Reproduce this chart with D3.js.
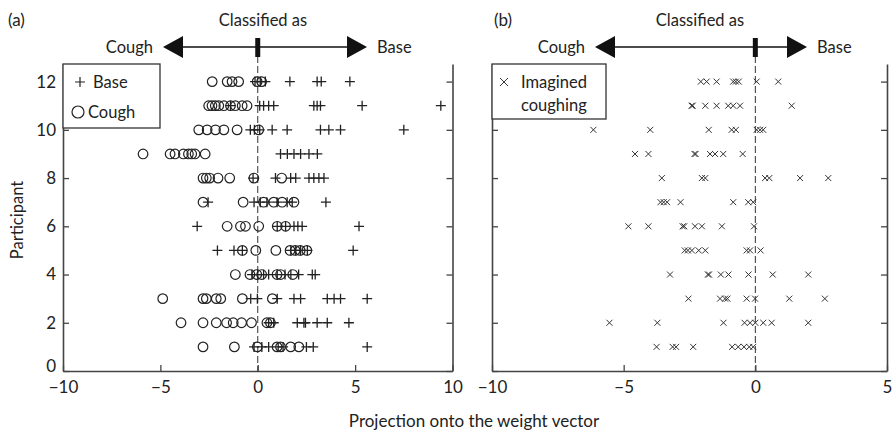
<!DOCTYPE html>
<html>
<head>
<meta charset="utf-8">
<script src="https://cdn.jsdelivr.net/npm/d3@7"></script>
<style>
	body { margin: 0; background: #fff; }
	svg { display: block; font-family: Lato, "Open Sans", sans-serif; }
	.axis path, .axis line { stroke: #444; }
	.axis path { stroke-width: 1.6; }
	.axis line { stroke-width: 1.3; }
	.axis text { font-size: 17px; fill: #222; font-family: Lato, sans-serif; }
</style>
</head>
<body>
<script>
// participants 1..12 (row index = participant - 1)
const participants = [1, 2, 3, 4, 5, 6, 7, 8, 9, 10, 11, 12];

// (a) projections of the "base" trials per participant
const baseA = [
	[-0.19, 0.21, 0.56, 1.05, 1.3, 2.5, 2.85, 5.62],
	[0.56, 0.82, 2.03, 2.37, 2.45, 3.05, 3.57, 4.68],
	[-0.36, -0.02, 1.0, 1.86, 2.2, 3.57, 3.92, 4.25, 5.62],
	[-0.3, 0.0, 0.3, 0.56, 1.0, 1.4, 1.7, 2.1, 2.8, 2.95],
	[-2.07, -1.22, -0.79, 1.7, 1.95, 2.2, 2.55, 4.9],
	[-3.11, 1.0, 1.43, 1.86, 2.06, 2.28, 5.2],
	[-2.55, -0.19, 0.13, 0.47, 0.99, 1.51, 1.77, 3.5],
	[-0.24, 0.91, 1.69, 1.95, 2.63, 2.88, 3.14, 3.4],
	[1.17, 1.52, 1.86, 2.2, 2.63, 3.06],
	[-0.38, -0.17, 0.1, 0.74, 1.51, 3.22, 3.65, 4.25, 7.5],
	[-1.4, 0.1, 0.3, 0.56, 0.82, 2.88, 3.05, 3.22, 5.36, 9.4],
	[-0.14, 0.13, 0.39, 1.65, 3.05, 3.26, 4.73]
];

// (a) projections of the "cough" trials per participant
const coughA = [
	[-2.81, -1.2, -0.02, 0.99, 1.17, 1.69, 2.11],
	[-3.94, -2.81, -2.13, -1.6, -1.26, -0.83, -0.32, 0.47, 0.65],
	[-4.88, -2.81, -2.64, -2.13, -1.9, -0.79, 0.75],
	[-1.15, -0.4, -0.05, 0.2, 0.99, 1.17, 1.8],
	[-0.79, -0.1, 0.93, 1.66, 1.92, 2.18, 2.52],
	[-1.57, -0.89, -0.63, 0.05, 1.0, 1.43],
	[-2.81, -0.75, 0.3, 0.82, 1.25, 1.86],
	[-2.81, -2.64, -2.47, -2.04, -1.44, -0.2, 1.23],
	[-5.89, -4.5, -4.25, -3.82, -3.56, -3.39, -3.22, -2.7],
	[-3.03, -2.6, -2.17, -1.74, -1.06, 0.05],
	[-2.52, -2.35, -2.18, -2.0, -1.74, -1.4, -1.15, -0.8, -0.55],
	[-2.34, -1.57, -1.32, -0.98, -0.03, 0.2]
];

// (b) projections of the imagined coughing trials per participant
const imaginedB = [
	[-3.75, -3.14, -3.01, -2.36, -0.88, -0.65, -0.43, -0.23, -0.08],
	[-5.54, -3.72, -1.21, -0.41, -0.2, 0.0, 0.3, 0.62, 2.01],
	[-2.54, -1.34, -1.15, -1.06, -0.33, -0.01, 1.29, 2.64],
	[-3.24, -1.8, -1.76, -1.31, -1.02, -0.26, 0.66, 2.01],
	[-2.68, -2.56, -2.41, -2.15, -1.9, -0.33, -0.2, 0.2],
	[-4.82, -4.06, -2.76, -2.7, -2.29, -2.03, -1.27, -0.05],
	[-3.6, -3.48, -3.35, -2.84, -0.84, -0.27, -0.08],
	[-3.55, -2.03, -1.9, 0.37, 0.53, 1.7, 2.77],
	[-4.57, -4.06, -2.31, -2.27, -1.72, -1.53, -1.22, -0.48],
	[-6.15, -3.99, -1.77, -0.9, -0.74, 0.05, 0.18, 0.3],
	[-2.42, -2.38, -1.9, -1.47, -1.03, -0.84, -0.58, 1.38],
	[-2.07, -1.85, -1.47, -0.84, -0.74, -0.63, 0.05, 0.87]
];

const xTicksA = [-10, -5, 0, 5, 10];
const xTicksB = [-10, -5, 0, 5];
const yTicks = [0, 2, 4, 6, 8, 10, 12];

const width = 892;
const height = 435;
const plotTop = 64, plotBottom = 371;

const svg = d3.select("body")
	.append("svg")
	.attr("width", width)
	.attr("height", height);

const y = d3.scaleLinear().domain([0, 12.73]).range([plotBottom, plotTop]);
const xA = d3.scaleLinear().domain([-10, 10]).range([63, 452.5]);
const xB = d3.scaleLinear().domain([-10, 5]).range([492, 887]);

const plusPath = "M-5,0H5M0,-5V5";
const crossPath = "M-3,-3L3,3M-3,3L3,-3";

// flatten a per-participant array into {p, v} points
function points(rows) {
	let out = [];
	rows.forEach((vals, i) => vals.forEach(v => out.push({ p: participants[i], v: v })));
	return out;
}

function drawPanel(x, ticks, showYLabels, arrow, label) {
	// dashed line at zero, from arrow marker down to the x axis
	svg.append("line")
		.attr("x1", x(0)).attr("x2", x(0))
		.attr("y1", 56).attr("y2", plotBottom)
		.attr("stroke", "#333")
		.attr("stroke-width", 1)
		.attr("stroke-dasharray", "7,3");

	// bottom axis
	svg.append("g")
		.attr("class", "axis")
		.attr("transform", `translate(0,${plotBottom})`)
		.call(d3.axisBottom(x).tickValues(ticks).tickSizeInner(-6).tickSizeOuter(0).tickPadding(10));

	// left axis
	let left = svg.append("g")
		.attr("class", "axis")
		.attr("transform", `translate(${x.range()[0]},0)`)
		.call(d3.axisLeft(y).tickValues(yTicks).tickSizeInner(-6).tickSizeOuter(0).tickPadding(7)
			.tickFormat(showYLabels ? d3.format("d") : ""));
	// lift the "0" label a little so it clears the x tick labels
	left.selectAll(".tick text").filter(d => d == 0).attr("dy", "0.05em");

	// right axis
	svg.append("g")
		.attr("class", "axis")
		.attr("transform", `translate(${x.range()[1]},0)`)
		.call(d3.axisRight(y).tickValues(yTicks).tickSizeInner(-6).tickSizeOuter(0).tickFormat(""));

	// header: panel letter, "Classified as", arrow
	svg.append("text")
		.attr("x", label.x).attr("y", 26)
		.attr("font-size", 17).attr("fill", "#222")
		.text(label.text);
	svg.append("text")
		.attr("x", arrow.mid).attr("y", 26)
		.attr("text-anchor", "middle")
		.attr("font-size", 16.5).attr("fill", "#222")
		.text("Classified as");

	const ay = 47;
	svg.append("line")
		.attr("x1", arrow.left + 18).attr("x2", arrow.right - 18)
		.attr("y1", ay).attr("y2", ay)
		.attr("stroke", "#111").attr("stroke-width", 1.5);
	svg.append("path")
		.attr("d", `M${arrow.left},${ay}L${arrow.left + 20},${ay - 11}V${ay + 11}Z`)
		.attr("fill", "#111");
	svg.append("path")
		.attr("d", `M${arrow.right},${ay}L${arrow.right - 20},${ay - 11}V${ay + 11}Z`)
		.attr("fill", "#111");
	svg.append("rect")
		.attr("x", x(0) - 2.5).attr("y", 38)
		.attr("width", 5).attr("height", 19)
		.attr("fill", "#111");
	svg.append("text")
		.attr("x", arrow.left - 10).attr("y", ay + 6)
		.attr("text-anchor", "end")
		.attr("font-size", 16.5).attr("fill", "#222")
		.text("Cough");
	svg.append("text")
		.attr("x", arrow.right + 10).attr("y", ay + 6)
		.attr("font-size", 16.5).attr("fill", "#222")
		.text("Base");
}

drawPanel(xA, xTicksA, true, { left: 163, right: 367, mid: 263 }, { x: 8, text: "(a)" });
drawPanel(xB, xTicksB, false, { left: 595, right: 807, mid: 700 }, { x: 494, text: "(b)" });

// panel (a) marks
svg.append("g")
	.selectAll("path")
	.data(points(baseA))
	.join("path")
	.attr("transform", d => `translate(${xA(d.v)},${y(d.p)})`)
	.attr("d", plusPath)
	.attr("stroke", "#222")
	.attr("stroke-width", 1.3)
	.attr("fill", "none");

svg.append("g")
	.selectAll("circle")
	.data(points(coughA))
	.join("circle")
	.attr("cx", d => xA(d.v))
	.attr("cy", d => y(d.p))
	.attr("r", 4.8)
	.attr("stroke", "#222")
	.attr("stroke-width", 1.2)
	.attr("fill", "none");

// panel (b) marks
svg.append("g")
	.selectAll("path")
	.data(points(imaginedB))
	.join("path")
	.attr("transform", d => `translate(${xB(d.v)},${y(d.p)})`)
	.attr("d", crossPath)
	.attr("stroke", "#333")
	.attr("stroke-width", 1)
	.attr("fill", "none");

// legend (a)
let legA = svg.append("g");
legA.append("rect")
	.attr("x", 63).attr("y", plotTop)
	.attr("width", 97).attr("height", 64)
	.attr("fill", "#fff").attr("stroke", "#333").attr("stroke-width", 1.3);
legA.append("path")
	.attr("transform", `translate(80,82)`)
	.attr("d", plusPath)
	.attr("stroke", "#222").attr("stroke-width", 1.2);
legA.append("text")
	.attr("x", 93).attr("y", 88)
	.attr("font-size", 16.5).attr("fill", "#222")
	.text("Base");
legA.append("circle")
	.attr("cx", 78).attr("cy", 112).attr("r", 6)
	.attr("stroke", "#222").attr("stroke-width", 1.2).attr("fill", "none");
legA.append("text")
	.attr("x", 88).attr("y", 118)
	.attr("font-size", 16.5).attr("fill", "#222")
	.text("Cough");

// legend (b)
let legB = svg.append("g");
legB.append("rect")
	.attr("x", 492).attr("y", plotTop)
	.attr("width", 114).attr("height", 55)
	.attr("fill", "#fff").attr("stroke", "#333").attr("stroke-width", 1.3);
legB.append("path")
	.attr("transform", `translate(504,82)`)
	.attr("d", "M-4,-4L4,4M-4,4L4,-4")
	.attr("stroke", "#333").attr("stroke-width", 1);
legB.append("text")
	.attr("x", 521).attr("y", 88)
	.attr("font-size", 16.5).attr("fill", "#222")
	.text("Imagined");
legB.append("text")
	.attr("x", 521).attr("y", 111)
	.attr("font-size", 16.5).attr("fill", "#222")
	.text("coughing");

// axis titles
svg.append("text")
	.attr("transform", "translate(23,220) rotate(-90)")
	.attr("text-anchor", "middle")
	.attr("font-size", 16.5).attr("fill", "#222")
	.text("Participant");
svg.append("text")
	.attr("x", 474).attr("y", 427)
	.attr("text-anchor", "middle")
	.attr("font-size", 17).attr("fill", "#222")
	.text("Projection onto the weight vector");
</script>
</body>
</html>
